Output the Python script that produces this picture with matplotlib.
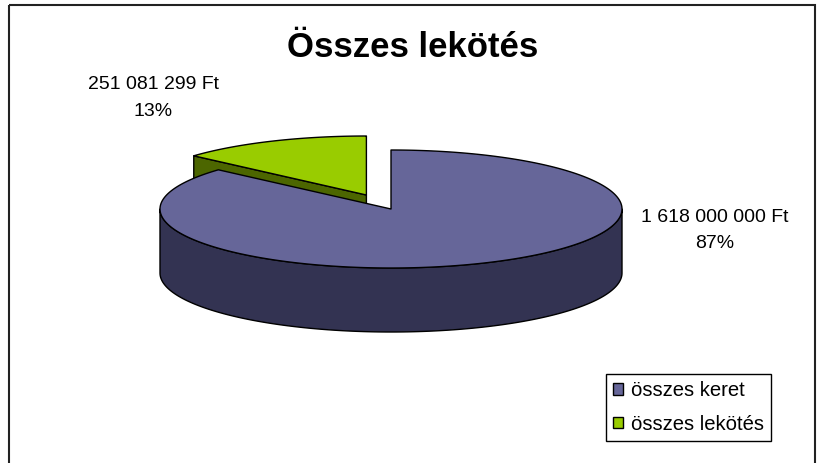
import numpy as np
import matplotlib
matplotlib.use("Agg")
import matplotlib.pyplot as plt
from matplotlib.patches import Polygon, Patch, Rectangle

# ---- data ----
categories = ["összes keret", "összes lekötés"]
values = [1618000000, 251081299]
title = "Összes lekötés"

# ---- style ----
top_colors = ["#666699", "#99CC00"]
side_colors = ["#333352", "#4C6600"]
explode = [0.0, 0.26]

plt.rcParams['font.family'] = ['Liberation Sans', 'DejaVu Sans']

fig = plt.figure(figsize=(8.19, 4.63), dpi=100)
ax = fig.add_axes([0, 0, 1, 1])
ax.set_xlim(0, 819)
ax.set_ylim(463, 0)
ax.axis('off')

# pie geometry in pixel space
cx, cy, a, b, depth = 391, 209, 231, 59, 64

total = float(sum(values))
fracs = [v / total for v in values]

# angles (start at 12 o'clock, clockwise)
starts, ends = [], []
ang = 90.0
for f in fracs:
    starts.append(ang)
    ang -= 360.0 * f
    ends.append(ang)


def arc(t0, t1, ox, oy, dz=0.0, n=200):
    t = np.radians(np.linspace(t0, t1, n))
    return np.column_stack([ox + a * np.cos(t), oy - b * np.sin(t) + dz])


def draw_slice(i):
    ts, te = starts[i], ends[i]
    mid = np.radians((ts + te) / 2)
    ox = cx + explode[i] * a * np.cos(mid)
    oy = cy - explode[i] * b * np.sin(mid)
    kw = dict(edgecolor='black', linewidth=1.0, joinstyle='round')
    # radial faces
    for th, vis in ((ts, np.cos(np.radians(ts)) < -1e-6), (te, np.cos(np.radians(te)) > 1e-6)):
        if vis:
            p = arc(th, th, ox, oy, n=1)[0]
            poly = [(ox, oy), tuple(p), (p[0], p[1] + depth), (ox, oy + depth)]
            ax.add_patch(Polygon(poly, closed=True, facecolor=side_colors[i], **kw))
    # outer front side: portion of [te, ts] where sin<0
    for k in range(-2, 2):
        lo, hi = -180 + 360 * k, 0 + 360 * k
        s0, s1 = max(te, lo), min(ts, hi)
        if s1 > s0:
            top = arc(s1, s0, ox, oy)
            bot = arc(s0, s1, ox, oy, dz=depth)
            ax.add_patch(Polygon(np.vstack([top, bot]), closed=True,
                                 facecolor=side_colors[i], **kw))
    # top face
    top = arc(ts, te, ox, oy, n=400)
    ax.add_patch(Polygon(np.vstack([[ox, oy], top]), closed=True,
                         facecolor=top_colors[i], **kw))


order = sorted(range(len(values)),
               key=lambda i: -np.sin(np.radians((starts[i] + ends[i]) / 2)))
for i in order:
    draw_slice(i)

# data labels
label_pos = [(715, 222), (153, 89)]
for i, v in enumerate(values):
    vtxt = f"{v:,}".replace(",", " ") + " Ft"
    ptxt = f"{round(100 * v / total)}%"
    x, y = label_pos[i]
    ax.text(x, y, vtxt, ha='center', va='baseline', fontsize=14, color='black')
    ax.text(x, y + 26.5, ptxt, ha='center', va='baseline', fontsize=14, color='black')

# title
ax.text(413, 57, title, ha='center', va='baseline', fontsize=25,
        fontweight='bold', color='black')

# legend
handles = [Patch(facecolor=top_colors[i], edgecolor='black', linewidth=1.0)
           for i in range(len(categories))]
leg = ax.legend(handles, categories, loc='upper left',
                bbox_to_anchor=(606 / 819, 1 - 374 / 463),
                bbox_transform=fig.transFigure, fontsize=14.6,
                frameon=True, fancybox=False, edgecolor='black', framealpha=1,
                handlelength=0.5, handleheight=0.5, handletextpad=0.4,
                borderpad=0.35, labelspacing=0.72, borderaxespad=0)
leg.get_frame().set_linewidth(1.0)

# chart border
ax.add_patch(Rectangle((8.5, 4.5), 806, 480, fill=False, edgecolor='#222222',
                       linewidth=1.5, clip_on=False))

fig.savefig("out.png", dpi=100)
